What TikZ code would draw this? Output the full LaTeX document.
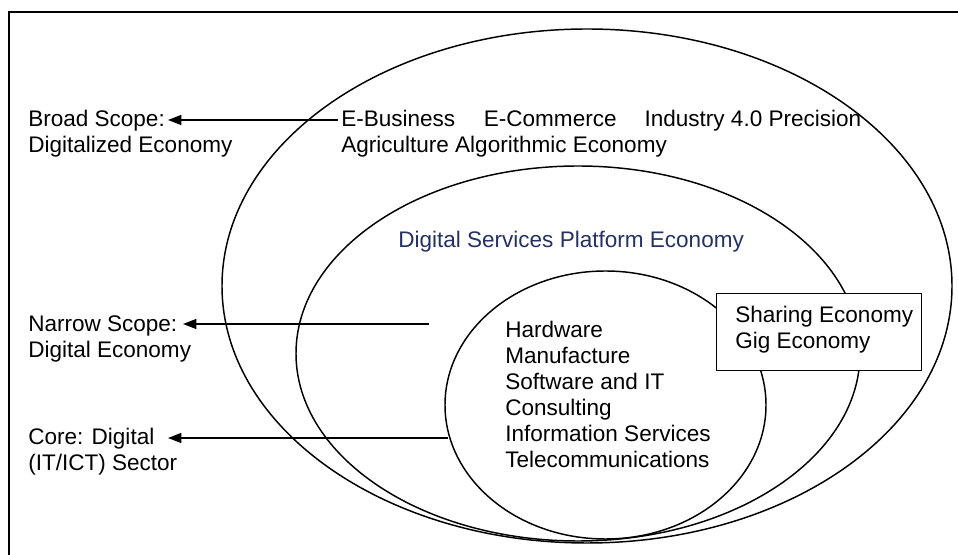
\documentclass[tikz,border=0pt]{standalone}
\usepackage{fontspec}
\setmainfont{Liberation Sans}
\usetikzlibrary{shapes.geometric,arrows.meta}
\definecolor{navy}{RGB}{38,48,98}
\begin{document}
\begin{tikzpicture}[x=0.75pt,y=-0.75pt,
  ring/.style={draw, ellipse, line width=1.1pt, inner sep=0pt, outer sep=0pt},
  lbl/.style={anchor=base west, inner sep=0pt, align=left, font=\fontsize{16.9}{19.5}\selectfont},
  arr/.style={line width=1.1pt, -{Triangle[length=10pt,width=7.5pt]}},
  frame/.style={line width=0.9pt},
  boxed/.style={draw, fill=white, line width=0.9pt, inner sep=0pt, anchor=north west}]
\useasboundingbox (0,0) rectangle (958,555);
\draw[frame] (9,555) -- (9,12) -- (958,12);
\node[ring, minimum width=547.5pt, minimum height=385.5pt] (outer) at (587,286) {};
\node[ring, minimum width=423pt, minimum height=281.25pt] (middle) at (578,353.5) {};
\node[ring, minimum width=240.75pt, minimum height=201pt] (inner) at (605.5,405) {};
\node[boxed, minimum width=153.75pt, minimum height=57.75pt] (box) at (716,293) {};
% base anchor of a multi-line node = baseline of its last line
\node[lbl] (share) at (735,349) {Sharing Economy\\Gig Economy};
\node[lbl] (broad) at (28,153) {Broad Scope:\\Digitalized Economy};
\node[lbl] (digi) at (341,153) {E-Business\hspace{21.5pt}E-Commerce\hspace{21pt}Industry 4.0 Precision\\Agriculture Algorithmic Economy};
\node[lbl, text=navy] (platform) at (398,248) {Digital Services Platform Economy};
\node[lbl] (narrow) at (28,358) {Narrow Scope:\\Digital Economy};
\node[lbl] (core) at (28,471) {Core: Digital\\(IT/ICT) Sector};
\node[lbl] (ict) at (505,468) {Hardware\\Manufacture\\Software and IT\\Consulting\\Information Services\\Telecommunications};
\coordinate (bs) at (338,120); \coordinate (be) at (168,120);
\coordinate (ns) at (429,324); \coordinate (ne) at (183,324);
\coordinate (cs) at (448,438); \coordinate (ce) at (168,438);
\draw[arr] (bs) -- (be);
\draw[arr] (ns) -- (ne);
\draw[arr] (cs) -- (ce);
\end{tikzpicture}
\end{document}
